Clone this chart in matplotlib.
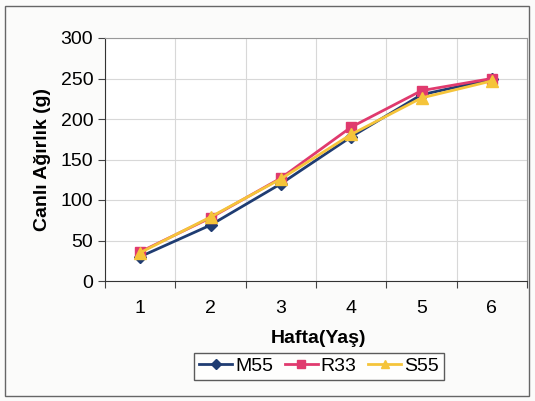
import matplotlib.pyplot as plt
from matplotlib.patches import Rectangle

plt.rcParams["font.family"] = ["Liberation Sans", "DejaVu Sans"]

weeks = [1, 2, 3, 4, 5, 6]
m55 = [30, 69, 120, 178, 230, 249]
r33 = [36, 78, 127, 190, 235, 250]
s55 = [35, 79, 126, 181, 226, 247]

fig = plt.figure(figsize=(5.35, 4.01), dpi=100)
fig.patch.set_facecolor("#fbfbfa")
ax = fig.add_axes([105 / 535, 1 - 281 / 401, 422 / 535, 243 / 401])
ax.set_facecolor("white")

ax.plot(weeks, m55, color="#1f3c72", marker="D", markersize=6, lw=2, label="M55", zorder=3)
ax.plot(weeks, r33, color="#e03a6e", marker="s", markersize=7, lw=2, label="R33", zorder=4)
ax.plot(weeks, s55, color="#f5c43a", marker="^", markersize=8, lw=2, label="S55", zorder=5)

ax.set_xlim(0.5, 6.5)
ax.set_ylim(0, 300)
ax.set_yticks(range(0, 301, 50))
ax.set_xticks([w - 0.5 for w in weeks] + [6.5])
ax.set_xticklabels([])
ax.set_xticks(weeks, minor=True)
ax.set_xticklabels([str(w) for w in weeks], minor=True)
ax.tick_params(axis="x", which="minor", length=0, pad=14, labelsize=14)
ax.tick_params(axis="x", which="major", length=5, direction="out", color="#444")
ax.tick_params(axis="y", length=5, direction="out", labelsize=14, color="#444")
ax.grid(True, which="major", color="#d8d8d8", lw=0.8)
ax.set_axisbelow(True)
for side in ["top", "right"]:
    ax.spines[side].set_color("#999999")
for side in ["left", "bottom"]:
    ax.spines[side].set_color("#333333")

ax.set_xlabel("Hafta(Yaş)", fontsize=14, fontweight="bold")
ax.xaxis.set_label_coords(0.507, -0.2)
ax.set_ylabel("Canlı Ağırlık (g)", fontsize=14, fontweight="bold", labelpad=7)

leg = ax.legend(loc="upper center", bbox_to_anchor=(0.507, -0.255), ncol=3, fontsize=14,
                frameon=True, fancybox=False, edgecolor="#333333", handlelength=1.7,
                columnspacing=0.6, handletextpad=0.15, borderpad=0.25, markerscale=0.8)

fig.patches.append(Rectangle((5 / 535, 5 / 401), 524 / 535, 390 / 401, transform=fig.transFigure,
                             fill=False, edgecolor="#666666", lw=1))

fig.savefig("out.png", dpi=100)
